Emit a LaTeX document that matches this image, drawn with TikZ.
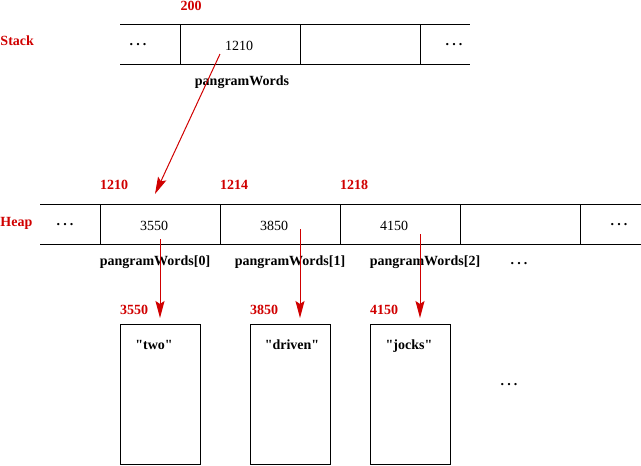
\documentclass[tikz,border=0pt]{standalone}
\usepackage{fontspec}
\setmainfont{Liberation Serif}[Ligatures=TeXOff]
\usetikzlibrary{arrows.meta}
\definecolor{xred}{RGB}{208,0,0}
\newcommand{\mydots}{\textbf{.\hspace{0.22em}.\hspace{0.22em}.}}
\begin{document}
\begin{tikzpicture}[x=1pt,y=-1pt,line width=1pt,
  every node/.style={inner sep=0pt,font=\fontsize{14}{16}\selectfont},
  val/.style={anchor=base},
  lbl/.style={anchor=base,font=\fontsize{14}{16}\selectfont\bfseries},
  addr/.style={anchor=base,text=xred,font=\fontsize{14}{16}\selectfont\bfseries},
  ptr/.style={draw=xred,line width=1pt,-{Stealth[length=17pt,width=9pt,inset=3pt]}},
  mem/.style={draw=black,line width=1pt,minimum width=80pt,minimum height=140pt}]
\useasboundingbox (0,0) rectangle (641,466);
% Stack row
\draw (120,24) -- (470,24) (120,64) -- (470,64);
\draw (180,24) -- (180,64) (300,24) -- (300,64) (420,24) -- (420,64);
\node[addr,anchor=base west] (stk) at (0,45) {Stack};
\node[addr] (a200) at (191,10) {200};
\node[val] (sd1) at (138,45) {\mydots};
\node[val] (s1210) at (239,50) {1210};
\node[val] (sd2) at (454,45) {\mydots};
\node[lbl] (spw) at (242,85) {pangramWords};
% Heap row
\draw (40,204) -- (641,204) (40,244) -- (641,244);
\draw (100,204) -- (100,244) (220,204) -- (220,244) (340,204) -- (340,244)
      (460,204) -- (460,244) (580,204) -- (580,244);
\node[addr,anchor=base west] (hp) at (0,226) {Heap};
\node[addr] (a1210) at (114,189) {1210};
\node[addr] (a1214) at (234,189) {1214};
\node[addr] (a1218) at (354,189) {1218};
\node[val] (hd1) at (65,225) {\mydots};
\node[val] (h0) at (154,230) {3550};
\node[val] (h1) at (274,230) {3850};
\node[val] (h2) at (394,230) {4150};
\node[val] (hd2) at (619,225) {\mydots};
\node[lbl] (pw0) at (155,265) {pangramWords[0]};
\node[lbl] (pw1) at (290,265) {pangramWords[1]};
\node[lbl] (pw2) at (425,265) {pangramWords[2]};
\node[val] (pwd) at (519,264) {\mydots};
% String boxes
\node[addr] (a3550) at (134,314) {3550};
\node[addr] (a3850) at (264,314) {3850};
\node[addr] (a4150) at (384,314) {4150};
\node[mem] (b0) at (160,394) {};
\node[mem] (b1) at (290,394) {};
\node[mem] (b2) at (410,394) {};
\node[lbl] (t0) at (154,349) {"two"};
\node[lbl] (t1) at (292,349) {"driven"};
\node[lbl] (t2) at (409,349) {"jocks"};
\node[val] (bd) at (509,385) {\mydots};
% Pointers
\coordinate (sp) at (220,54);
\coordinate (se) at (155,194);
\coordinate (p0) at (160,239);
\coordinate (e0) at (160,318);
\coordinate (p1) at (300,229);
\coordinate (e1) at (300,318);
\coordinate (p2) at (420,234);
\coordinate (e2) at (420,318);
\draw[ptr] (sp) -- (se);
\draw[ptr] (p0) -- (e0);
\draw[ptr] (p1) -- (e1);
\draw[ptr] (p2) -- (e2);
\end{tikzpicture}
\end{document}
